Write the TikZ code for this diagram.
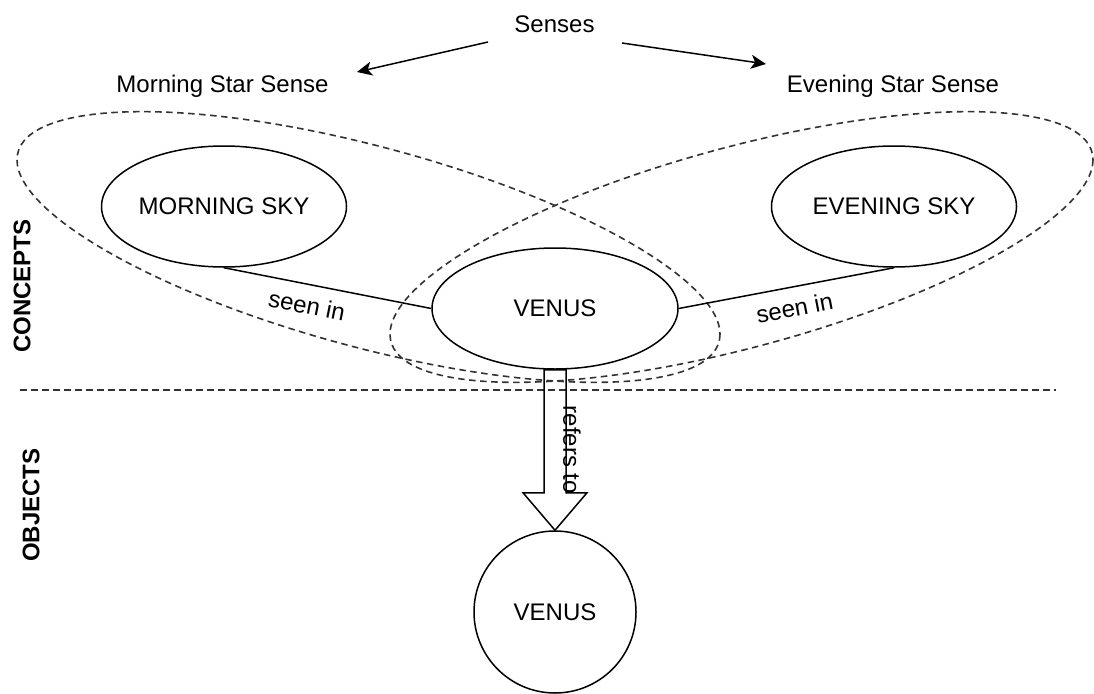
\documentclass[tikz,border=0pt]{standalone}
\usepackage{fontspec}
\setmainfont{Liberation Sans}
\usetikzlibrary{arrows.meta,calc,shapes.geometric}

\begin{document}
\begin{tikzpicture}[x=1pt,y=-1pt,
  every node/.style={font=\fontsize{24}{28}\selectfont, inner sep=0pt},
  solidline/.style={draw=black, line width=1.5pt},
  grouping/.style={draw=black!80, line width=1.6pt, dash pattern=on 6.5pt off 4.5pt},
  concept/.style={ellipse, solidline, fill=white, minimum width=245pt, minimum height=121pt},
  objectnode/.style={circle, solidline, fill=white, minimum size=162pt},
  sidelabel/.style={rotate=90, font=\fontsize{24}{28}\selectfont\bfseries},
  edgelabel/.style={sloped, below=11.5pt},
  senseArrow/.style={solidline, -{Stealth[length=15pt, width=14pt, inset=4pt]}}
]
\useasboundingbox (0,0) rectangle (1094,693);

% the two sense groupings (dashed ovals)
\draw[grouping, cm={351.5,-87.2,0,103.5,(368.5,247)}] (0,0) circle (1);
\draw[grouping, cm={351.5,87.2,0,103.5,(741.5,247)}] (0,0) circle (1);

% separator between concepts and objects
\coordinate (sepL) at (20,390);
\coordinate (sepR) at (1056,390);
\draw[grouping] (sepL) -- (sepR);

% side labels
\node[sidelabel] (concepts) at (22,286) {CONCEPTS};
\node[sidelabel] (objects) at (31,505) {OBJECTS};

% senses
\node (senses) at (554.5,24) {Senses};
\node (mss) at (222.5,86) {Morning Star Sense};
\node (ess) at (893,86) {Evening Star Sense};

\coordinate (sl0) at (488,42);
\coordinate (sl1) at (357,72);
\coordinate (sr0) at (622,43);
\coordinate (sr1) at (766,64);
\draw[senseArrow] (sl0) -- (sl1);
\draw[senseArrow] (sr0) -- (sr1);

% concepts
\node[concept] (ms) at (224,206.5) {MORNING SKY};
\node[concept] (es) at (894,206.5) {EVENING SKY};
\node[concept, minimum width=246pt] (vc) at (555,308.5) {VENUS};

\draw[solidline] (ms.south) -- node[edgelabel, pos=0.42] (seenL) {seen in} (vc.west);
\draw[solidline] (vc.east) -- node[edgelabel, pos=0.52] (seenR) {seen in} (es.south);

% object
\node[objectnode] (vo) at (555,612) {VENUS};

% block arrow: concept refers to object
\draw[solidline, line join=miter]
  ($(vc.south)+(-11,0)$) -- ($(vc.south)+(-11,123)$) -- ($(vc.south)+(-32,123)$)
  -- (vo.north) -- ($(vc.south)+(32,123)$) -- ($(vc.south)+(11,123)$)
  -- ($(vc.south)+(11,0)$) -- cycle;
\node[rotate=-90] (refers) at (572,450) {refers to};

\end{tikzpicture}
\end{document}
